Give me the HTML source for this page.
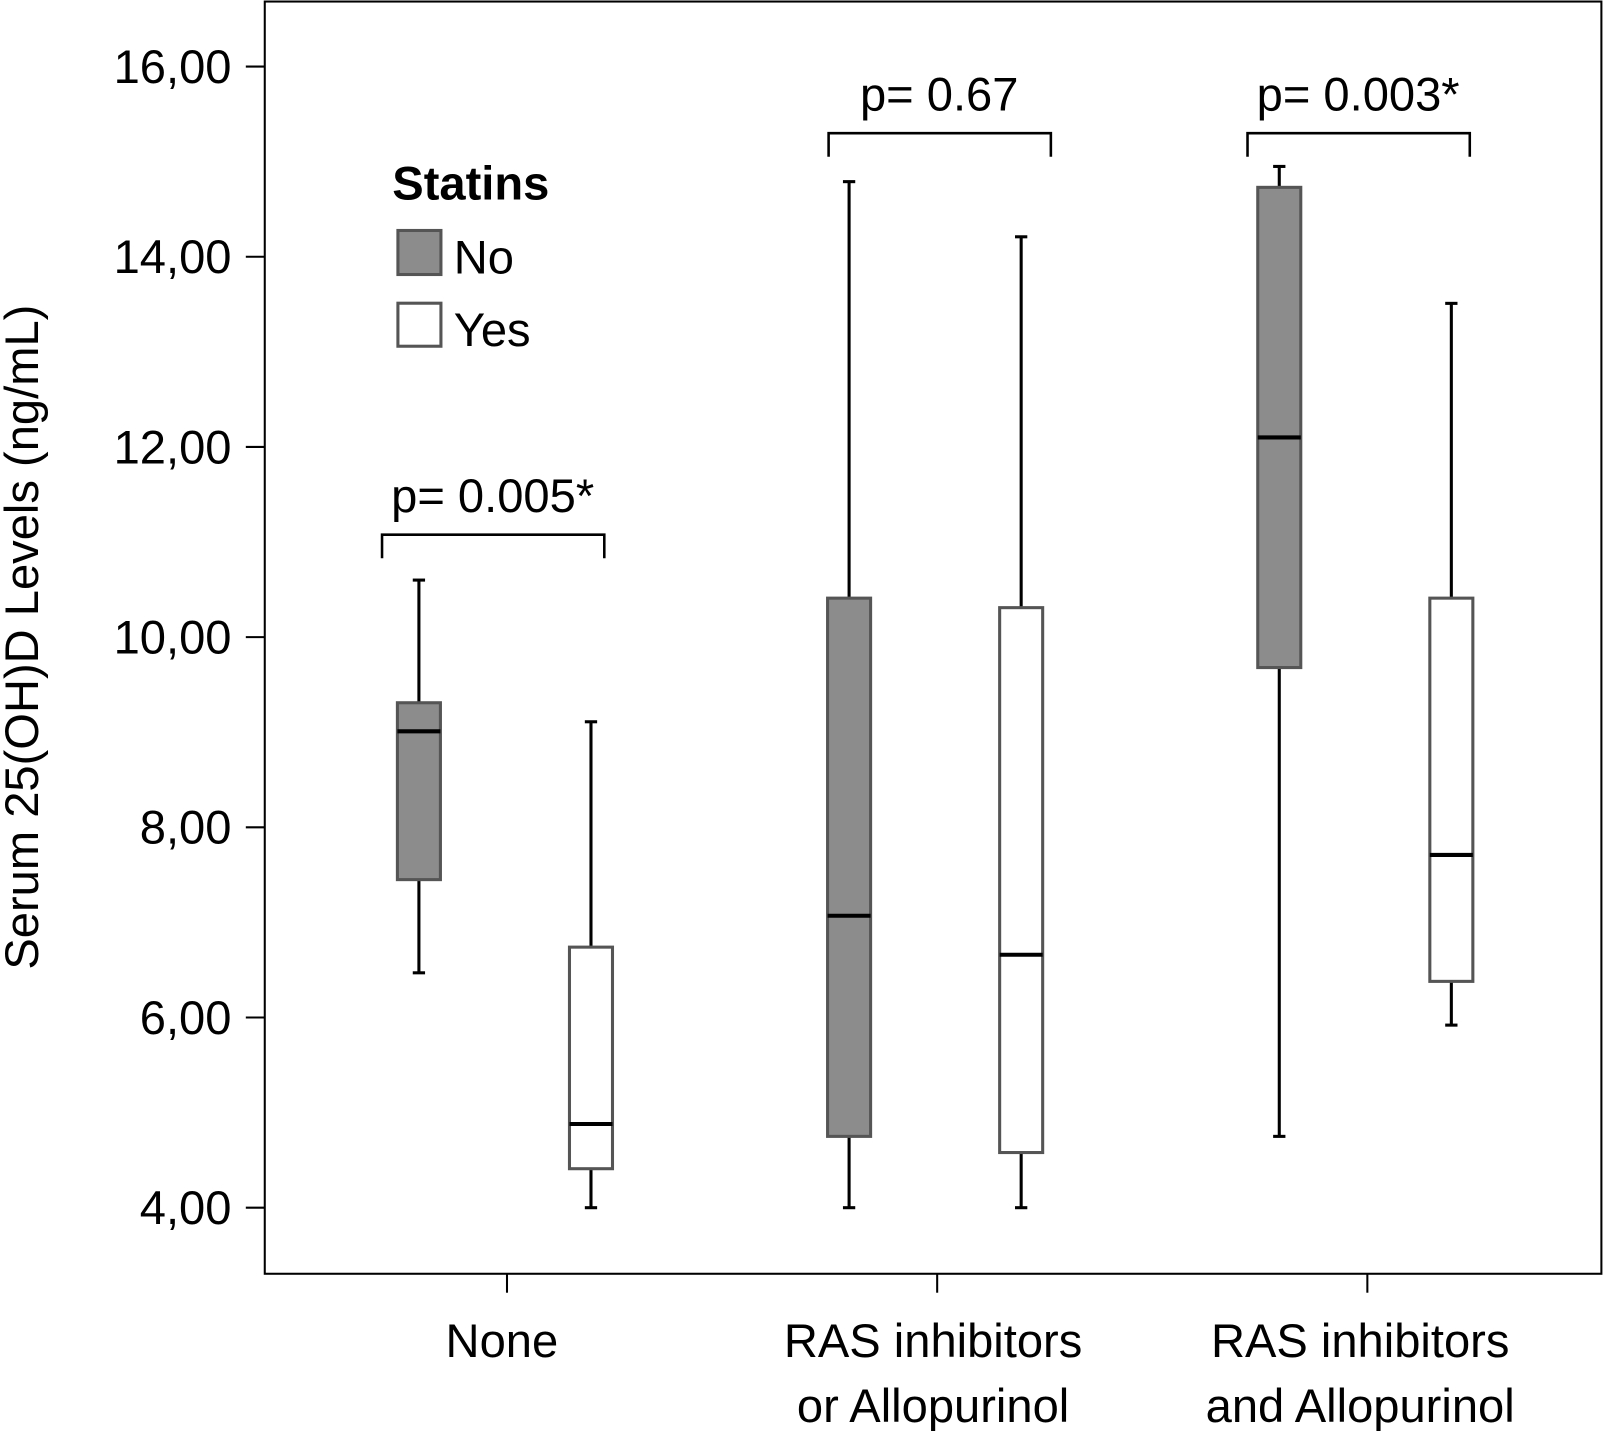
<!DOCTYPE html>
<html><head><meta charset="utf-8"><style>
html,body{margin:0;padding:0;background:#fff;}
svg{display:block;font-family:"Liberation Sans",Arial,sans-serif;}
</style></head><body>
<svg id="chart" width="1606" height="1431" viewBox="0 0 1568 1397" preserveAspectRatio="none" xmlns="http://www.w3.org/2000/svg">
<rect x="258.5" y="1.5" width="1305" height="1242" fill="none" stroke="#000" stroke-width="2"/>
<text transform="translate(37,622) rotate(-90)" text-anchor="middle" font-size="46" fill="#000">Serum 25(OH)D Levels (ng/mL)</text>
<g>
<text x="383" y="195" font-size="46" font-weight="bold">Statins</text>
<rect x="388.5" y="225" width="42" height="43" fill="#8c8c8c" stroke="#555" stroke-width="3"/>
<text x="443" y="267" font-size="46">No</text>
<rect x="388.5" y="296" width="42" height="42" fill="#fff" stroke="#555" stroke-width="3"/>
<text x="443" y="338" font-size="46">Yes</text>
</g>
<g id="marks"></g>
</svg>
<script>
const categories = [["None"], ["RAS inhibitors", "or Allopurinol"], ["RAS inhibitors", "and Allopurinol"]];
const seriesNames = ["No", "Yes"];
const whiskerLow = [[6.47, 4.0], [4.0, 4.0], [4.75, 5.92]];
const q1 = [[7.45, 4.41], [4.75, 4.58], [9.68, 6.38]];
const medians = [[9.01, 4.88], [7.07, 6.66], [12.10, 7.71]];
const q3 = [[9.31, 6.74], [10.41, 10.31], [14.73, 10.41]];
const whiskerHigh = [[10.60, 9.11], [14.79, 14.21], [14.95, 13.51]];
const pLabels = ["p= 0.005*", "p= 0.67", "p= 0.003*"];
const yTicks = [4, 6, 8, 10, 12, 14, 16];

const NS = "http://www.w3.org/2000/svg";
const g = document.getElementById("marks");
const Y = v => 65 + (16 - v) * (1179 - 65) / 12;
const X = i => 495 + i * 420;
const bracketLeft = [373, 809, 1218];
const bracketTop = [522, 130, 130];
const labelShift = [-5, -4, -7];
function mk(tag, attrs, parent) {
  const e = document.createElementNS(NS, tag);
  for (const k in attrs) e.setAttribute(k, attrs[k]);
  (parent || g).appendChild(e);
  return e;
}
yTicks.forEach(t => {
  const l = mk("line", {x1: 240, x2: 258, y1: Y(t), y2: Y(t), stroke: "#000", "stroke-width": 2});
  
  
  const tx = mk("text", {x: 226, y: Y(t) + 16, "text-anchor": "end", "font-size": 46});
  tx.textContent = t.toFixed(2).replace(".", ",");
  
  
});
categories.forEach((c, i) => {
  const cx = X(i);
  const tk = mk("line", {x1: cx, x2: cx, y1: 1243, y2: 1262, stroke: "#000", "stroke-width": 2});
  
  
  c.forEach((line, j) => {
    const tx = mk("text", {x: cx + labelShift[i], y: 1325 + j * 63, "text-anchor": "middle", "font-size": 46});
    tx.textContent = line;
    
    
  });
  const bx = [cx - 86, cx + 82];
  seriesNames.forEach((s, k) => {
    const mx = bx[k];
    const grp = mk("g", {});
    
    
    mk("line", {x1: mx, x2: mx, y1: Y(whiskerHigh[i][k]), y2: Y(q3[i][k]), stroke: "#000", "stroke-width": 3}, grp);
    mk("line", {x1: mx, x2: mx, y1: Y(q1[i][k]), y2: Y(whiskerLow[i][k]), stroke: "#000", "stroke-width": 3}, grp);
    mk("line", {x1: mx - 6, x2: mx + 6, y1: Y(whiskerHigh[i][k]), y2: Y(whiskerHigh[i][k]), stroke: "#000", "stroke-width": 3}, grp);
    mk("line", {x1: mx - 6, x2: mx + 6, y1: Y(whiskerLow[i][k]), y2: Y(whiskerLow[i][k]), stroke: "#000", "stroke-width": 3}, grp);
    mk("rect", {x: mx - 21, y: Y(q3[i][k]), width: 42, height: Y(q1[i][k]) - Y(q3[i][k]),
      fill: k === 0 ? "#8c8c8c" : "#fff", stroke: "#555", "stroke-width": 3}, grp);
    mk("line", {x1: mx - 21, x2: mx + 21, y1: Y(medians[i][k]), y2: Y(medians[i][k]), stroke: "#000", "stroke-width": 4}, grp);
  });
  const bl = bracketLeft[i], by = bracketTop[i];
  const br = mk("path", {d: `M${bl},${by+23} V${by} H${bl+217} V${by+23}`, fill: "none", stroke: "#000", "stroke-width": 2.5});
  
  
  const pt = mk("text", {x: bl + 108, y: by - 22, "text-anchor": "middle", "font-size": 46});
  pt.textContent = pLabels[i];
  
  
});
</script>
</body></html>
